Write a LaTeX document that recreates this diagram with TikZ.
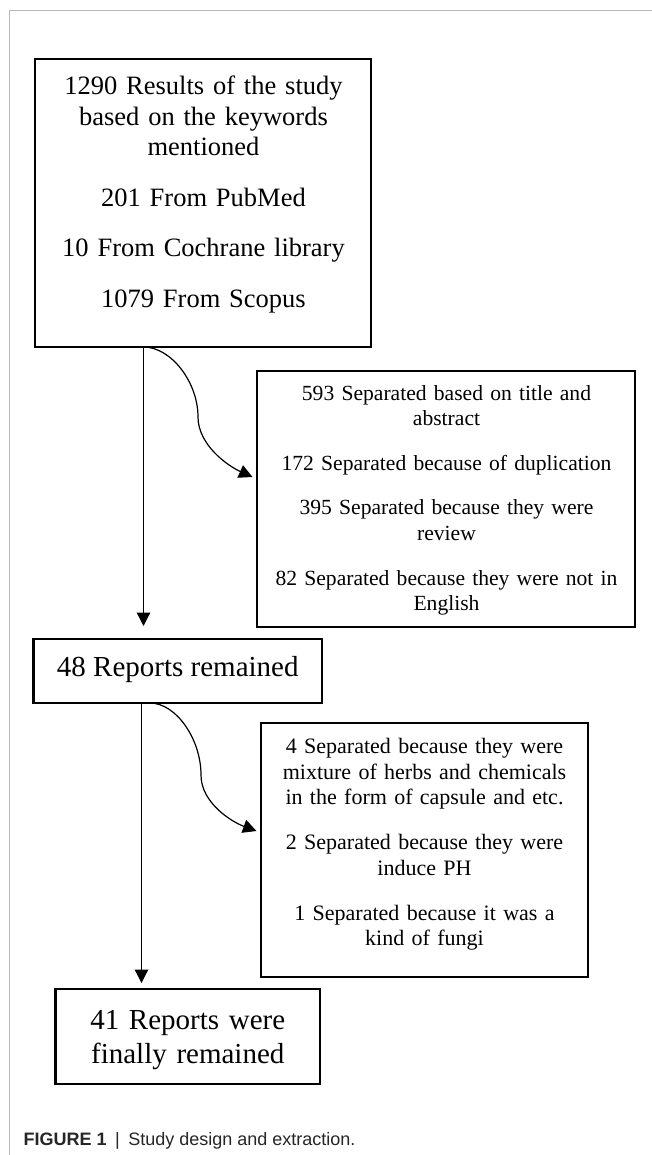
\documentclass[tikz,border=0pt]{standalone}
\usepackage{fontspec}
\setmainfont{Liberation Serif}
\newfontfamily\capfont{Liberation Sans}
\usetikzlibrary{arrows.meta}
\begin{document}
\begin{tikzpicture}[x=1pt,y=-1pt,
  box/.style={draw, line width=2.3pt, inner sep=0pt, outer sep=0pt},
  txt/.style={anchor=base, align=center, inner sep=0pt},
  arr/.style={line width=1.2pt, -{Triangle[length=13.5pt,width=13.5pt]}},
  framegrey/.style={draw=black!28, line width=1pt}]
\fill[white] (0,0) rectangle (652,1155);
\useasboundingbox (0,0) rectangle (652,1155);
% outer frame
\draw[framegrey] (652,10.7) -- (9.3,10.7) -- (9.3,1155);
% boxes
\node[box, minimum width=336pt, minimum height=288pt] (b1) at (203,203) {};
\node[box, minimum width=378pt, minimum height=256pt] (b2) at (446,499) {};
\node[box, minimum width=288.5pt, minimum height=64pt] (b3) at (177.75,671) {};
\node[box, minimum width=327pt, minimum height=254pt] (b4) at (424.5,850) {};
\node[box, minimum width=264.5pt, minimum height=95pt] (b5) at (187.75,1036.5) {};
% texts
\node[txt, text width=340pt, font={\fontsize{26.5}{30.5}\selectfont}] (t1) at (203.5,95)
  {1290 Results of the study\\ based on the keywords\\ mentioned\\[20pt]
   201 From PubMed\\[20pt] 10 From Cochrane library\\[20pt] 1079 From Scopus};
\node[txt, text width=372pt, font={\fontsize{21.6}{25.3}\selectfont}] (t2) at (446.5,400)
  {593 Separated based on title and\\ abstract\\[19.5pt]
   172 Separated because of duplication\\[19.5pt]
   395 Separated because they were\\ review\\[19.5pt]
   82 Separated because they were not in\\ English};
\node[txt, font={\fontsize{29}{34}\selectfont}] (t3) at (177.75,676) {48 Reports remained};
\node[txt, text width=322pt, font={\fontsize{22}{25.5}\selectfont}] (t4) at (424.5,753.7)
  {4 Separated because they were\\ mixture of herbs and chemicals\\ in the form of capsule and etc.\\[19.5pt]
   2 Separated because they were\\ induce PH\\[19.5pt]
   1 Separated because it was a\\ kind of fungi};
\node[txt, text width=260pt, font={\fontsize{29}{34}\selectfont}] (t5) at (187.75,1029)
  {41 Reports were\\ finally remained};
% caption
\node[anchor=base west, inner sep=0pt, text=black!85, font={\capfont\fontsize{18}{22}\selectfont}] (cap) at (23.5,1145)
  {\textbf{FIGURE 1}\hspace{8.5pt}|\hspace{8.5pt}Study design and extraction.};
% connector end points
\coordinate (t1tip) at (143.5,626);
\coordinate (c1mid) at (198,417);
\coordinate (c1tip) at (252.5,477);
\coordinate (t2tip) at (141.5,983);
\coordinate (c2mid) at (201,775);
\coordinate (c2tip) at (256.5,831);
% connectors
\draw[arr] ([xshift=108.5pt]b1.south west) -- (t1tip);
\draw[arr] ([xshift=108.5pt]b1.south west) .. controls +(27.5,0) and +(0,-35) .. (c1mid)
  .. controls +(0,28) and +(-24.5,-11) .. (c1tip);
\draw[arr] ([xshift=108pt]b3.south west) -- (t2tip);
\draw[arr] ([xshift=116.5pt]b3.south west) .. controls +(26,0) and +(0,-36) .. (c2mid)
  .. controls +(0,28) and +(-24.5,-9) .. (c2tip);
\end{tikzpicture}
\end{document}
